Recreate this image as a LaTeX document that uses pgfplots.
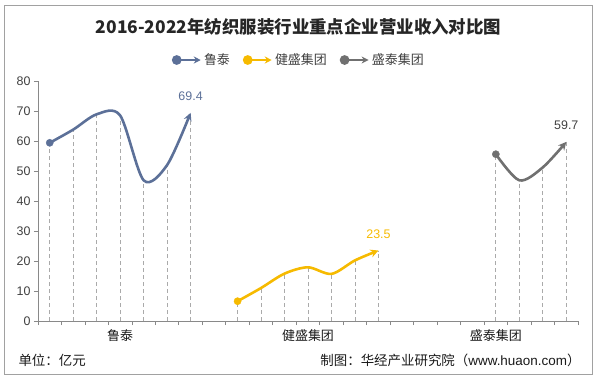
\documentclass[border=0pt]{standalone}
\usepackage{pgfplots}
\pgfplotsset{compat=1.18}
\usepackage{fontspec}
\setmainfont{Liberation Sans}
\newfontfamily\cjk{Noto Sans CJK SC}
\newfontfamily\lat{Liberation Sans}
\usetikzlibrary{arrows.meta}
\definecolor{lutai}{RGB}{92,112,152}
\definecolor{jians}{RGB}{246,186,0}
\definecolor{shengt}{RGB}{112,112,112}
\definecolor{dropc}{RGB}{170,170,170}
\definecolor{axc}{RGB}{137,137,137}
\definecolor{txt}{RGB}{64,64,64}

\pgfplotstableread{
x y
0 59.4
1 63.8
2 68.9
3 68.5
4 46.9
5 52.0
6 69.4
}\lutaidata
\pgfplotstableread{
x y
8 6.6
9 11.0
10 15.8
11 17.9
12 15.7
13 20.2
14 23.5
}\jiansdata
\pgfplotstableread{
x y
19 55.6
20 46.9
21 51.2
22 59.7
}\shengtdata

\begin{document}
\begin{tikzpicture}[x=1bp,y=1bp]
\useasboundingbox (0,0) rectangle (597,378);
\draw[axc!80, line width=0.8bp] (4.5,4) rectangle (592.5,373);
\node[font=\cjk\bfseries\fontsize{17.5}{20}\selectfont, text=black!85] at (298.5,351.5) {2016-2022年纺织服装行业重点企业营业收入对比图};
\node[font=\cjk\fontsize{13.5}{16}\selectfont, text=black!90, anchor=west] at (15,18) {单位：亿元};
\node[font=\cjk\fontsize{13.5}{16}\selectfont, text=black!90, anchor=east] at (584,18) {制图：华经产业研究院（{\lat www.huaon.com}）};
\begin{axis}[
  at={(38bp,57bp)}, anchor=south west,
  scale only axis, width=540bp, height=240bp,
  xmin=-0.5, xmax=22.5, ymin=0, ymax=80,
  axis lines=left,
  axis line style={-, axc, line width=0.8bp},
  ytick={0,10,...,80},
  xtick={-0.5,0.5,...,22.5},
  xticklabels={},
  extra x ticks={3,11,19},
  extra x tick labels={{\cjk 鲁泰},{\cjk 健盛集团},{\cjk 盛泰集团}},
  extra x tick style={major tick length=0pt, xticklabel style={yshift=-5bp, font=\fontsize{13}{15}\selectfont, text=black!90}},
  tick style={axc, line width=0.8bp},
  major tick length=4bp,
  tick align=outside,
  ticklabel style={font=\fontsize{12.5}{14}\selectfont, text=txt},
  /pgf/number format/assume math mode=true,
  clip=false,
  legend style={at={(0.483,1.0875)}, anchor=center, draw=none, fill=none,
    font=\cjk\fontsize{13}{15}\selectfont, text=txt,
    /tikz/every even column/.append style={column sep=11bp}},
  legend columns=3,
  legend image code/.code={
    \draw[#1, line width=2.6bp, -{Stealth[length=7bp,width=7bp]}] (0bp,0bp) -- (27bp,0bp);
    \fill[#1] (3bp,0bp) circle (3.5bp);
  },
]
% drop lines
\addplot[ycomb, dropc, dash pattern=on 4bp off 3bp, line width=0.7bp, forget plot] table {\lutaidata};
\addplot[ycomb, dropc, dash pattern=on 4bp off 3bp, line width=0.7bp, forget plot] table {\jiansdata};
\addplot[ycomb, dropc, dash pattern=on 4bp off 3bp, line width=0.7bp, forget plot] table {\shengtdata};
% series
\addplot[lutai, line width=2.6bp, smooth, tension=0.5, -{Stealth[length=8bp,width=8bp]}] table {\lutaidata};
\addlegendentry{鲁泰}
\addplot[jians, line width=2.6bp, smooth, tension=0.5, -{Stealth[length=8bp,width=8bp]}] table {\jiansdata};
\addlegendentry{健盛集团}
\addplot[shengt, line width=2.6bp, smooth, tension=0.5, -{Stealth[length=8bp,width=8bp]}] table {\shengtdata};
\addlegendentry{盛泰集团}
% start markers
\addplot[only marks, mark=*, mark size=3.6bp, lutai, forget plot] coordinates {(0,59.4)};
\addplot[only marks, mark=*, mark size=3.6bp, jians, forget plot] coordinates {(8,6.6)};
\addplot[only marks, mark=*, mark size=3.6bp, shengt, forget plot] coordinates {(19,55.6)};
% value labels
\node[font=\fontsize{12.5}{14}\selectfont, text=lutai] at (axis cs:6,69.4) [yshift=17bp] {69.4};
\node[font=\fontsize{12.5}{14}\selectfont, text=jians] at (axis cs:14,23.5) [yshift=16bp] {23.5};
\node[font=\fontsize{12.5}{14}\selectfont, text=txt] at (axis cs:22,59.7) [yshift=17bp] {59.7};
\end{axis}
\end{tikzpicture}
\end{document}
